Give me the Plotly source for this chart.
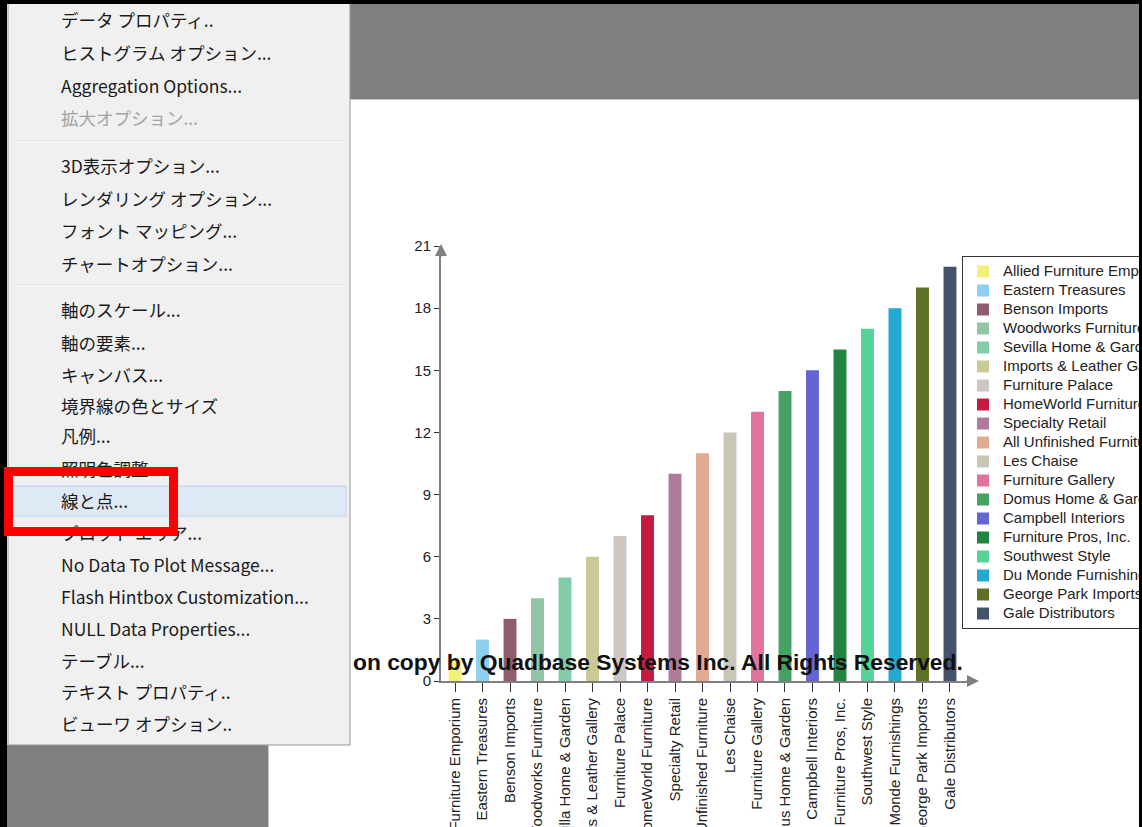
import plotly.graph_objects as go

W, H = 1142, 827

# ---------------- data ----------------
companies = [
    "Allied Furniture Emporium", "Eastern Treasures", "Benson Imports",
    "Woodworks Furniture", "Sevilla Home & Garden", "Imports & Leather Gallery",
    "Furniture Palace", "HomeWorld Furniture", "Specialty Retail",
    "All Unfinished Furniture", "Les Chaise", "Furniture Gallery",
    "Domus Home & Garden", "Campbell Interiors", "Furniture Pros, Inc.",
    "Southwest Style", "Du Monde Furnishings", "George Park Imports",
    "Gale Distributors",
]
values = [1, 2, 3, 4, 5, 6, 7, 8, 10, 11, 12, 13, 14, 15, 16, 17, 18, 19, 20]
colors = [
    "#F2F27A", "#8CCFF0", "#8E5C6E", "#94C4A6", "#82CCAA", "#CACA96",
    "#CFC6C2", "#C41A44", "#B07A9C", "#E2AA92", "#C9C6B8", "#E2739F",
    "#45A262", "#6464D2", "#228440", "#58D398", "#22AAD2", "#5C7222",
    "#43546A",
]
y_tick_values = [0, 3, 6, 9, 12, 15, 18, 21]
watermark = "on copy by Quadbase Systems Inc. All Rights Reserved."

menu_items = [
    "データ プロパティ..", "ヒストグラム オプション...", "Aggregation Options...",
    "拡大オプション...", "3D表示オプション...", "レンダリング オプション...",
    "フォント マッピング...", "チャートオプション...", "軸のスケール...",
    "軸の要素...", "キャンバス...", "境界線の色とサイズ", "凡例...",
    "照明色調整", "線と点...", "プロット エリア...",
    "No Data To Plot Message...", "Flash Hintbox Customization...",
    "NULL Data Properties...", "テーブル...", "テキスト プロパティ..",
    "ビューワ オプション..",
]
menu_disabled = ["拡大オプション..."]

# ---------------- layout geometry (pixels) ----------------
menu_y = [19, 52, 85, 117, 165, 198, 230, 263, 310, 342, 374, 405, 436,
          468, 500, 532, 564, 596, 628, 660, 691, 723]
sep_y = [141, 285]


def fx(x):
    return x / W


def fy(y):
    return 1 - y / H


fig = go.Figure()
for name, val, col in zip(companies, values, colors):
    fig.add_trace(go.Bar(
        x=[name], y=[val],
        name='<span style="font-size:15px">' + name + '</span>',
        width=0.47,
        marker=dict(color=col, line=dict(width=0)),
    ))

shapes = []
# gray areas
shapes.append(dict(type="rect", xref="paper", yref="paper", x0=fx(268), x1=1, y0=fy(99), y1=1,
                   fillcolor="#808080", line=dict(width=0), layer="above"))
shapes.append(dict(type="rect", xref="paper", yref="paper", x0=0, x1=fx(268), y0=0, y1=fy(745),
                   fillcolor="#808080", line=dict(width=0), layer="above"))
shapes.append(dict(type="line", xref="paper", yref="paper", x0=fx(268), x1=1, y0=fy(99.5), y1=fy(99.5),
                   line=dict(color="#C8C8C8", width=1), layer="above"))
shapes.append(dict(type="line", xref="paper", yref="paper", x0=fx(268.5), x1=fx(268.5), y0=0, y1=fy(99),
                   line=dict(color="#C8C8C8", width=1), layer="above"))
# menu
shapes.append(dict(type="rect", xref="paper", yref="paper", x0=fx(8), x1=fx(350), y0=fy(745), y1=fy(3),
                   fillcolor="#F0F0F0", line=dict(color="#979797", width=1), layer="above"))
for sy in sep_y:
    shapes.append(dict(type="line", xref="paper", yref="paper", x0=fx(18), x1=fx(344), y0=fy(sy), y1=fy(sy),
                       line=dict(color="#D5D5D5", width=1), layer="above"))
    shapes.append(dict(type="line", xref="paper", yref="paper", x0=fx(18), x1=fx(344), y0=fy(sy + 1), y1=fy(sy + 1),
                       line=dict(color="#FFFFFF", width=1), layer="above"))
# highlighted row
shapes.append(dict(type="rect", xref="paper", yref="paper", x0=fx(12), x1=fx(346), y0=fy(516), y1=fy(486),
                   fillcolor="#DFE9F5", line=dict(color="#B9D2EE", width=1), layer="above"))
# outer black frame (top / left)
shapes.append(dict(type="rect", xref="paper", yref="paper", x0=0, x1=1, y0=fy(4), y1=1,
                   fillcolor="#000000", line=dict(width=0), layer="above"))
shapes.append(dict(type="rect", xref="paper", yref="paper", x0=0, x1=fx(7), y0=0, y1=1,
                   fillcolor="#000000", line=dict(width=0), layer="above"))

annotations = []
# watermark
annotations.append(dict(text="<b>" + watermark + "</b>", xref="paper", yref="paper", x=fx(351), y=fy(662),
                        xanchor="left", yanchor="middle", showarrow=False,
                        font=dict(family="Arial, Liberation Sans", size=22.8, color="#111111"),
                        ))
# axis arrows
annotations.append(dict(text="", xref="paper", yref="paper", x=fx(441), y=fy(244),
                        ax=0, ay=14, showarrow=True, arrowhead=2, arrowsize=1.2,
                        arrowwidth=2, arrowcolor="#808080"))
annotations.append(dict(text="", xref="paper", yref="paper", x=fx(979), y=fy(681),
                        ax=-14, ay=0, showarrow=True, arrowhead=2, arrowsize=1.2,
                        arrowwidth=2, arrowcolor="#808080"))
# menu texts
for item, yy in zip(menu_items, menu_y):
    col = "#A2A2A2" if item in menu_disabled else "#1A1A1A"
    annotations.append(dict(text=item, xref="paper", yref="paper", x=fx(59), y=fy(yy),
                            xanchor="left", yanchor="middle", showarrow=False,
                            font=dict(family="Noto Sans CJK JP", size=17.5, color=col)))
# red highlight box (drawn above menu text)
annotations.append(dict(text=" ", xref="paper", yref="paper", x=fx(4), y=fy(467),
                        xanchor="left", yanchor="top", showarrow=False,
                        width=156, height=51, borderwidth=9, borderpad=0,
                        bordercolor="#FF0000", bgcolor="rgba(0,0,0,0)"))
# right black frame (above legend)
annotations.append(dict(text=" ", xref="paper", yref="paper", x=1, y=1,
                        xanchor="right", yanchor="top", showarrow=False,
                        width=3, height=H, borderwidth=0, borderpad=0,
                        bgcolor="#000000"))

fig.update_layout(
    width=W, height=H,
    margin=dict(l=0, r=0, t=0, b=0, pad=0, autoexpand=False),
    paper_bgcolor="#FFFFFF", plot_bgcolor="rgba(0,0,0,0)",
    barmode="overlay",
    showlegend=True,
    legend=dict(x=fx(962), y=fy(256), xanchor="left", yanchor="top",
                traceorder="normal", bgcolor="#FFFFFF", bordercolor="#333333",
                borderwidth=1, font=dict(family="Arial, Liberation Sans", size=12.2, color="#222222")),
    xaxis=dict(domain=[fx(441), fx(975)], type="category",
               categoryorder="array", categoryarray=companies,
               range=[-0.51, 18.91], showgrid=False, zeroline=False,
               showline=True, linecolor="#808080", linewidth=2,
               ticks="outside", ticklen=9, tickcolor="#333333", tickwidth=1,
               tickangle=-90, tickfont=dict(family="Arial, Liberation Sans", size=15, color="#222222"),
               fixedrange=True),
    yaxis=dict(domain=[fy(681), fy(246)], range=[0, 21],
               tickvals=y_tick_values, showgrid=False, zeroline=False,
               showline=True, linecolor="#808080", linewidth=2,
               ticks="outside", ticklen=5, tickcolor="#333333", tickwidth=1,
               tickfont=dict(family="Arial, Liberation Sans", size=15, color="#222222"),
               fixedrange=True),
    shapes=shapes,
    annotations=annotations,
)

fig.write_html(
    "out.html",
    config={"displayModeBar": False},
    post_script="document.body.style.margin='0';document.body.style.overflow='hidden';",
)
